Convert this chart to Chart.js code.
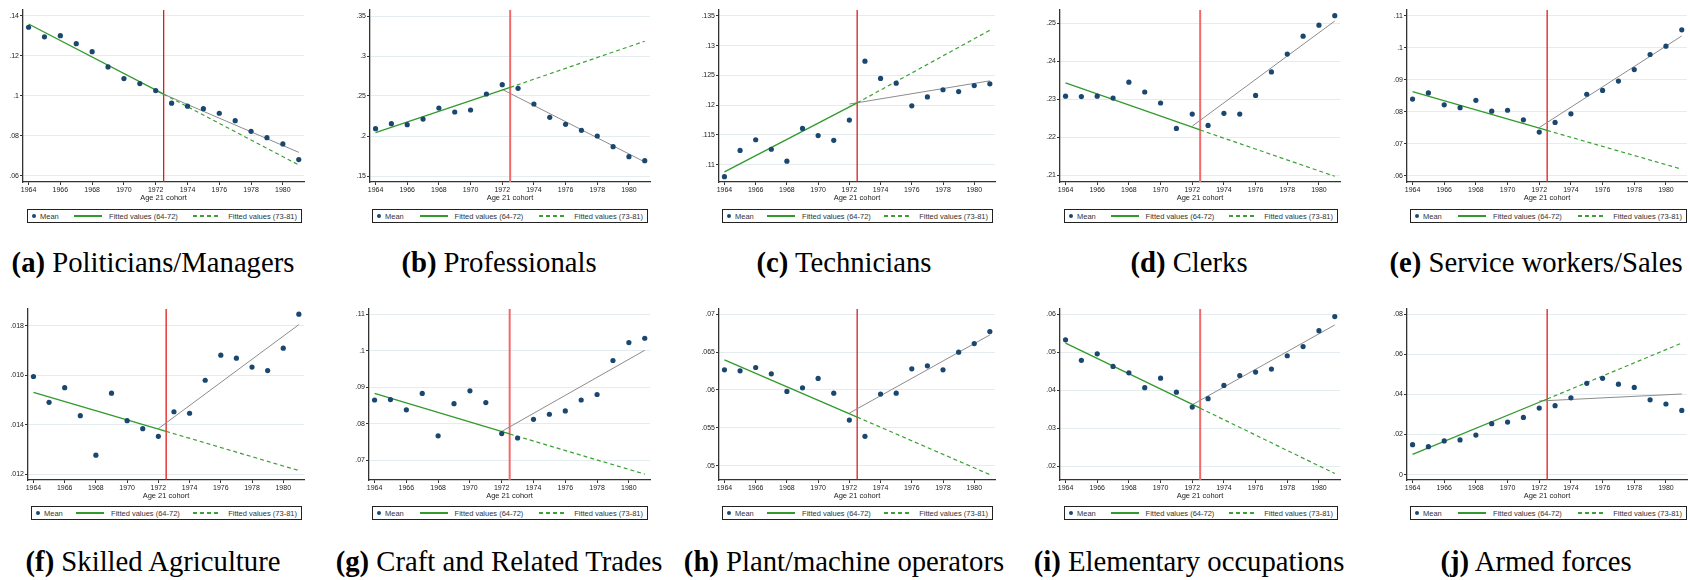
<!DOCTYPE html>
<html>
<head>
<meta charset="utf-8">
<script src="https://cdn.jsdelivr.net/npm/chart.js"></script>
<style>
body { margin:0; width:1690px; height:580px; overflow:hidden; background:#fff; position:relative; font-family:"Liberation Sans", Arial, sans-serif; }
canvas { position:absolute; }
.leg { position:absolute; box-sizing:border-box; border:1px solid #222; height:14px; display:flex; justify-content:space-between; align-items:center; padding:0 4px; font-size:7.5px; color:#333; }
.it { display:flex; align-items:center; white-space:nowrap; }
.dot { width:4px; height:4px; border-radius:50%; background:#1a476f; margin-right:4px; }
.sl { width:28px; height:1.3px; background:#319a2c; margin-right:7px; }
.dl { width:28px; height:1.3px; background:repeating-linear-gradient(90deg, #3ca035 0 4px, transparent 4px 7px); margin-right:7px; }
.cap { position:absolute; transform:translateX(-50%); font-family:"Liberation Serif", "Times New Roman", serif; font-size:28.7px; line-height:1; white-space:nowrap; color:#000; }
</style>
</head>
<body>
<script>
// cohort years and x ticks
const years = [1964,1965,1966,1967,1968,1969,1970,1971,1972,1973,1974,1975,1976,1977,1978,1979,1980,1981];
const xTicks = [1964,1966,1968,1970,1972,1974,1976,1978,1980];
const cutoff = 1972.5;

// means per occupation
const meanA = [.1342,.1294,.1300,.1260,.1220,.1144,.1086,.1061,.1026,.0963,.0948,.0936,.0913,.0876,.0823,.0791,.0760,.0682];
const meanB = [.2092,.2154,.2142,.2212,.2350,.2300,.2325,.2525,.2642,.2596,.2400,.2233,.2146,.2071,.2000,.1867,.1742,.1692];
const meanC = [.1080,.1124,.1142,.1126,.1106,.1161,.1149,.1141,.1175,.1274,.1245,.1237,.1199,.1214,.1226,.1223,.1233,.1236];
const meanD = [.2308,.2307,.2308,.2303,.2345,.2319,.2290,.2223,.2261,.2231,.2263,.2261,.2310,.2372,.2419,.2466,.2495,.2520];
const meanE = [.0840,.0859,.0822,.0813,.0836,.0802,.0805,.0775,.0737,.0767,.0794,.0855,.0867,.0896,.0932,.0979,.1005,.1056];
const meanF = [.01595,.01491,.01550,.01437,.01278,.01528,.01417,.01385,.01354,.01453,.01447,.01580,.01681,.01669,.01633,.01619,.01709,.01846];
const meanG = [.0865,.0866,.0838,.0883,.0767,.0855,.0890,.0858,.0773,.0761,.0812,.0826,.0835,.0865,.0880,.0973,.1022,.1034];
const meanH = [.06266,.06253,.06297,.06213,.05980,.06028,.06152,.05958,.05602,.05387,.05945,.05958,.06279,.06319,.06266,.06499,.06613,.06771];
const meanI = [.0533,.0479,.0496,.0463,.0446,.0407,.0432,.0395,.0356,.0378,.0413,.0439,.0448,.0456,.0491,.0515,.0557,.0594];
const meanJ = [.0149,.0139,.0168,.0173,.0197,.0254,.0262,.0285,.0332,.0344,.0383,.0455,.0480,.0451,.0435,.0373,.0352,.0320];

// pre-trend fit read at 1964, 1972.5, 1981
const preA = [.1358,.1008,.0655];
const preB = [.2042,.2608,.3185];
const preC = [.1088,.1204,.1326];
const preD = [.2343,.2219,.2097];
const preE = [.0863,.0742,.0621];
const preF = [.01531,.01374,.01216];
const preG = [.0883,.0772,.0662];
const preH = [.06398,.05642,.04881];
const preI = [.0524,.0353,.0181];
const preJ = [.0101,.0377,.0656];

// post fit (gray) read at 1972 and 1981
const postA = [.1025,.0718];
const postB = [.2583,.1675];
const postC = [.1202,.1241];
const postD = [.2229,.2506];
const postE = [.0751,.1037];
const postF = [.01385,.01804];
const postG = [.0779,.1001];
const postH = [.05694,.06727];
const postI = [.0362,.0572];
const postJ = [.0367,.0402];

// y tick labels
const yTicksA = [.06,.08,.1,.12,.14];
const yTicksB = [.15,.2,.25,.3,.35];
const yTicksC = [.11,.115,.12,.125,.13,.135];
const yTicksD = [.21,.22,.23,.24,.25];
const yTicksE = [.06,.07,.08,.09,.1,.11];
const yTicksF = [.012,.014,.016,.018];
const yTicksG = [.07,.08,.09,.1,.11];
const yTicksH = [.05,.055,.06,.065,.07];
const yTicksI = [.02,.03,.04,.05,.06];
const yTicksJ = [0,.02,.04,.06,.08];

const captions = [
  ['(a)','Politicians/Managers'], ['(b)','Professionals'], ['(c)','Technicians'],
  ['(d)','Clerks'], ['(e)','Service workers/Sales'], ['(f)','Skilled Agriculture'],
  ['(g)','Craft and Related Trades'], ['(h)','Plant/machine operators'],
  ['(i)','Elementary occupations'], ['(j)','Armed forces']
];

const FONT = '"Liberation Sans", Arial, sans-serif';
const RED = ['#e41a1c', 1.3], SALMON = ['#f36a6a', 2], DARKRED = ['#cc1111', 1.2];

// layout: plot area box, y range, legend box, caption centre
const panels = [
  {mean:meanA, pre:preA, post:postA, ticks:yTicksA, ymin:.057, ymax:.1428, L:23, R:304, T:10, B:182, lx:27, lw:275, ly:209, cx:153, cy:248, red:RED},
  {mean:meanB, pre:preB, post:postB, ticks:yTicksB, ymin:.1425, ymax:.3575, L:370, R:650, T:10, B:182, lx:372, lw:276, ly:209, cx:499, cy:248, red:SALMON},
  {mean:meanC, pre:preC, post:postC, ticks:yTicksC, ymin:.1071, ymax:.136, L:719, R:995, T:10, B:182, lx:722, lw:271, ly:209, cx:844, cy:248, red:DARKRED},
  {mean:meanD, pre:preD, post:postD, ticks:yTicksD, ymin:.2082, ymax:.2535, L:1060, R:1340, T:10, B:182, lx:1064, lw:274, ly:209, cx:1189, cy:248, red:SALMON},
  {mean:meanE, pre:preE, post:postE, ticks:yTicksE, ymin:.0581, ymax:.1118, L:1407, R:1687, T:10, B:182, lx:1410, lw:277, ly:209, cx:1536, cy:248, red:RED},
  {mean:meanF, pre:preF, post:postF, ticks:yTicksF, ymin:.01178, ymax:.01867, L:28, R:304, T:309, B:480, lx:31, lw:271, ly:506, cx:153, cy:547, red:RED},
  {mean:meanG, pre:preG, post:postG, ticks:yTicksG, ymin:.0646, ymax:.1114, L:369, R:650, T:309, B:480, lx:372, lw:276, ly:506, cx:499, cy:547, red:SALMON},
  {mean:meanH, pre:preH, post:postH, ticks:yTicksH, ymin:.0481, ymax:.0707, L:719, R:995, T:309, B:480, lx:722, lw:271, ly:506, cx:844, cy:547, red:DARKRED},
  {mean:meanI, pre:preI, post:postI, ticks:yTicksI, ymin:.0164, ymax:.0614, L:1060, R:1340, T:309, B:480, lx:1064, lw:274, ly:506, cx:1189, cy:547, red:SALMON},
  {mean:meanJ, pre:preJ, post:postJ, ticks:yTicksJ, ymin:-.0027, ymax:.0826, L:1407, R:1687, T:309, B:480, lx:1410, lw:277, ly:506, cx:1536, cy:547, red:RED}
];

function fmt(v) {
  if (Math.abs(v) < 1e-9) return '0';
  return String(+v.toFixed(4)).replace(/^0\./, '.').replace(/^-0\./, '-.');
}

const cutLine = {
  id: 'cutLine',
  beforeDatasetsDraw(chart, args, opts) {
    const {ctx, chartArea: a, scales: {x}} = chart;
    const px = x.getPixelForValue(opts.at);
    ctx.save();
    ctx.strokeStyle = opts.color;
    ctx.lineWidth = opts.width;
    ctx.beginPath();
    ctx.moveTo(px, a.top);
    ctx.lineTo(px, a.bottom);
    ctx.stroke();
    ctx.restore();
  }
};

function makePanel(p, idx) {
  const padT = 10, padR = 6, yW = 28, xH = 21;
  const cv = document.createElement('canvas');
  const w = p.R - p.L + yW + padR, h = p.B - p.T + padT + xH;
  cv.width = w; cv.height = h;
  cv.style.width = w + 'px'; cv.style.height = h + 'px';
  cv.style.left = (p.L - yW) + 'px';
  cv.style.top = (p.T - padT) + 'px';
  document.body.appendChild(cv);

  new Chart(cv, {
    type: 'scatter',
    data: {
      datasets: [
        {data: years.map((yr, i) => ({x: yr, y: p.mean[i]})), pointRadius: 2.6, pointBackgroundColor: '#1a476f', pointBorderWidth: 0, order: 0},
        {data: [{x: years[0], y: p.pre[0]}, {x: cutoff, y: p.pre[1]}], showLine: true, pointRadius: 0, borderColor: '#319a2c', borderWidth: 1.3, order: 1},
        {data: [{x: cutoff, y: p.pre[1]}, {x: years[17], y: p.pre[2]}], showLine: true, pointRadius: 0, borderColor: '#3ca035', borderWidth: 1.2, borderDash: [4, 3], order: 2},
        {data: [{x: 1972, y: p.post[0]}, {x: years[17], y: p.post[1]}], showLine: true, pointRadius: 0, borderColor: '#8c8c8c', borderWidth: 1, order: 3}
      ]
    },
    options: {
      responsive: false,
      animation: false,
      events: [],
      devicePixelRatio: 1,
      layout: {padding: {top: padT, right: padR, left: 0, bottom: 0}},
      plugins: {
        legend: {display: false},
        tooltip: {enabled: false},
        cutLine: {at: cutoff, color: p.red[0], width: p.red[1]}
      },
      scales: {
        x: {
          type: 'linear', min: 1963.65, max: 1981.33,
          afterBuildTicks: s => { s.ticks = xTicks.map(v => ({value: v})); },
          afterFit: s => { s.height = xH; },
          grid: {drawOnChartArea: false, tickLength: 3, tickColor: '#333', lineWidth: 1},
          border: {color: '#333', width: 1.3},
          ticks: {font: {size: 7, family: FONT}, color: '#222', padding: 1, maxRotation: 0, autoSkip: false, callback: v => String(v)},
          title: {display: true, text: 'Age 21 cohort', font: {size: 7.5, family: FONT}, color: '#222', padding: {top: 0, bottom: 1}}
        },
        y: {
          min: p.ymin, max: p.ymax,
          afterBuildTicks: s => { s.ticks = p.ticks.map(v => ({value: v})); },
          afterFit: s => { s.width = yW; },
          grid: {color: '#e4ecef', tickColor: '#333', tickLength: 3, lineWidth: 1},
          border: {color: '#333', width: 1.3},
          ticks: {font: {size: 7, family: FONT}, color: '#222', padding: 1, callback: v => fmt(v)}
        }
      }
    },
    plugins: [cutLine]
  });

  const leg = document.createElement('div');
  leg.className = 'leg';
  leg.style.left = p.lx + 'px'; leg.style.top = p.ly + 'px'; leg.style.width = p.lw + 'px';
  leg.innerHTML = '<span class="it"><span class="dot"></span>Mean</span>' +
    '<span class="it"><span class="sl"></span>Fitted values (64-72)</span>' +
    '<span class="it"><span class="dl"></span>Fitted values (73-81)</span>';
  document.body.appendChild(leg);

  const cap = document.createElement('div');
  cap.className = 'cap';
  cap.style.left = p.cx + 'px'; cap.style.top = p.cy + 'px';
  cap.innerHTML = '<b>' + captions[idx][0] + '</b> ' + captions[idx][1];
  document.body.appendChild(cap);
}

panels.forEach(makePanel);
</script>
</body>
</html>
